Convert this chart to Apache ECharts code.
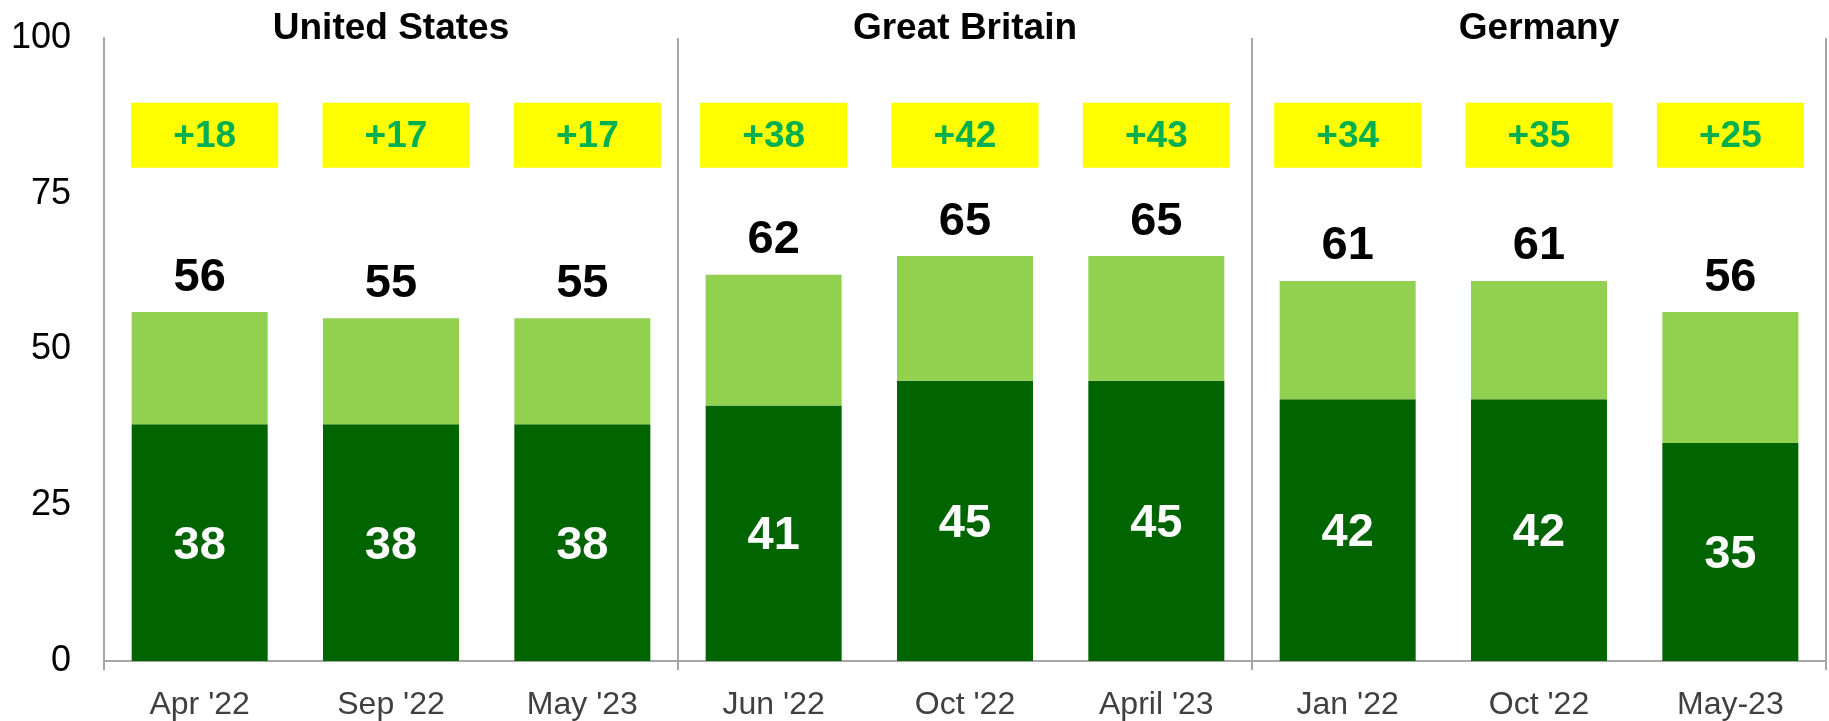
<!DOCTYPE html>
<html>
<head>
<meta charset="utf-8">
<title>Stacked bars by country</title>
<script src="https://cdn.jsdelivr.net/npm/echarts@6/dist/echarts.min.js"></script>
<style>
  html, body { margin: 0; padding: 0; background: #ffffff; }
  #chart { width: 1829px; height: 721px; }
</style>
</head>
<body>
<div id="chart"></div>
<script>
// Survey waves, three per country
const categories = ["Apr '22", "Sep '22", "May '23", "Jun '22", "Oct '22", "April '23", "Jan '22", "Oct '22", "May-23"];
const countries = ["United States", "Great Britain", "Germany"];
// Dark segment (inner label) and full bar total (label on top)
const strongValues = [38, 38, 38, 41, 45, 45, 42, 42, 35];
const totalValues = [56, 55, 55, 62, 65, 65, 61, 61, 56];
// Net scores shown in the yellow boxes
const netScores = [18, 17, 17, 38, 42, 43, 34, 35, 25];
const yTicks = [0, 25, 50, 75, 100];

// The light segment is what sits on top of the dark one
const lightValues = totalValues.map((t, i) => t - strongValues[i]);

const FONT = "'Liberation Sans', Arial, sans-serif";
const GREY = '#A6A6A6';
const NET_ROW = 84.4; // vertical level of the net-score boxes on the value axis

const chart = echarts.init(document.getElementById('chart'), null, { renderer: 'canvas' });

chart.setOption({
  animation: false,
  textStyle: { fontFamily: FONT },
  grid: { left: 104, right: 3, top: 38, bottom: 58, containLabel: false },
  xAxis: [
    {
      type: 'category',
      data: categories,
      position: 'bottom',
      axisLine: { show: true, lineStyle: { color: GREY, width: 2 } },
      axisTick: { show: true, length: 9, interval: (i) => i % 3 === 0, lineStyle: { color: GREY, width: 2 } },
      splitLine: { show: true, interval: (i) => i % 3 === 0, lineStyle: { color: GREY, width: 2 } },
      axisLabel: { color: '#404040', fontSize: 32, margin: 28, fontFamily: FONT, interval: 0 }
    },
    {
      type: 'category',
      data: countries,
      position: 'top',
      axisLine: { show: false },
      axisTick: { show: false },
      splitLine: { show: false },
      axisLabel: { color: '#000000', fontSize: 37, fontWeight: 'bold', margin: 9, verticalAlign: 'middle', fontFamily: FONT, interval: 0 }
    }
  ],
  yAxis: {
    type: 'value',
    min: 0,
    max: 100,
    interval: 25,
    axisLine: { show: true, lineStyle: { color: GREY, width: 2 } },
    axisTick: { show: false },
    splitLine: { show: false },
    axisLabel: {
      color: '#000000', fontSize: 36, margin: 33, fontFamily: FONT,
      formatter: (v) => (yTicks.indexOf(v) >= 0 ? String(v) : '')
    }
  },
  series: [
    {
      name: 'strong',
      type: 'bar',
      stack: 'total',
      data: strongValues,
      barWidth: 136,
      itemStyle: { color: '#006400' },
      label: {
        show: true, position: 'inside', offset: [0, 3], color: '#ffffff',
        fontSize: 47, fontWeight: 'bold', fontFamily: FONT
      },
      silent: true
    },
    {
      name: 'some',
      type: 'bar',
      stack: 'total',
      data: lightValues,
      barWidth: 136,
      itemStyle: { color: '#92D050' },
      label: {
        show: true, position: 'top', distance: 11, color: '#000000',
        fontSize: 47, fontWeight: 'bold', fontFamily: FONT,
        formatter: (p) => String(totalValues[p.dataIndex])
      },
      silent: true
    },
    {
      name: 'net',
      type: 'scatter',
      // the first country's boxes sit a little right of their bars
      data: netScores.map((v, i) => ({ value: [i, NET_ROW], symbolOffset: [i < 3 ? 5 : 0, 0] })),
      symbol: 'rect',
      symbolSize: [147, 65],
      itemStyle: { color: '#FFFF00', opacity: 1 },
      label: {
        show: true, position: 'inside', offset: [0, 2], color: '#00B050',
        fontSize: 37, fontWeight: 'bold', fontFamily: FONT,
        formatter: (p) => '+' + netScores[p.dataIndex]
      },
      z: 5,
      silent: true
    }
  ]
});
</script>
</body>
</html>
